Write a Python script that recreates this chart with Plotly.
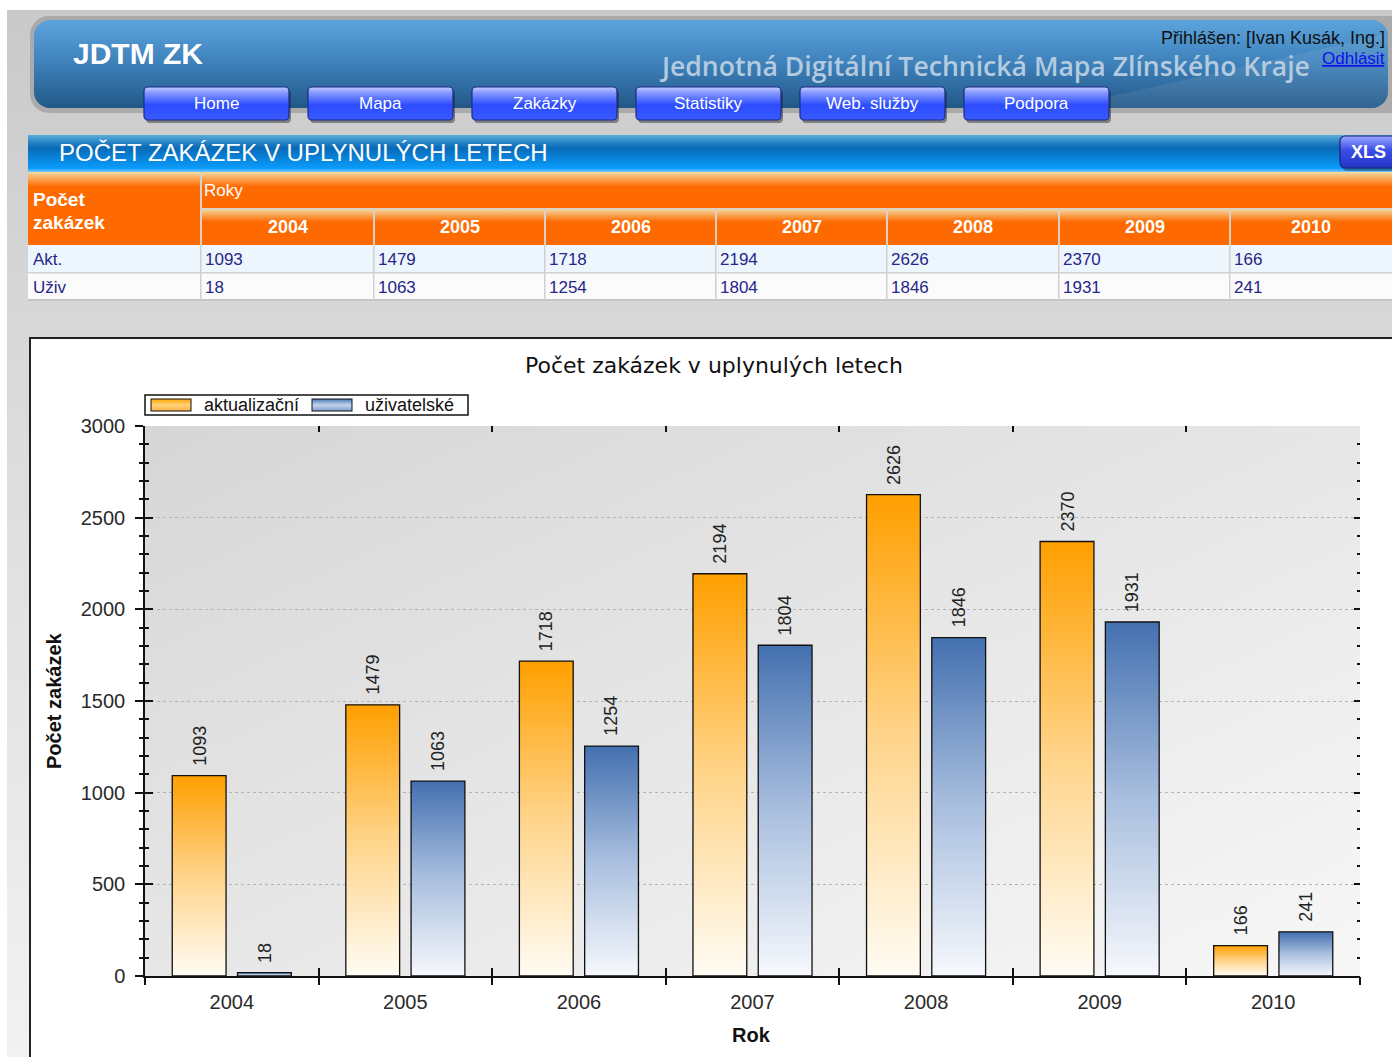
import base64
import plotly.graph_objects as go

# ---------------- data ----------------
years = [2004, 2005, 2006, 2007, 2008, 2009, 2010]
aktualizacni = [1093, 1479, 1718, 2194, 2626, 2370, 166]
uzivatelske = [18, 1063, 1254, 1804, 1846, 1931, 241]
series_names = ["aktualizační", "uživatelské"]
row_labels = ["Akt.", "Uživ"]
nav_items = ["Home", "Mapa", "Zakázky", "Statistiky", "Web. služby", "Podpora"]
y_tick_vals = [0, 500, 1000, 1500, 2000, 2500, 3000]

# ---------------- page geometry ----------------
W, H = 1392, 1057
def px(x):
    return x / W
def py(y):
    return 1 - y / H

ARIAL = "Liberation Sans, Arial, sans-serif"
DEJAVU = "DejaVu Sans, Verdana, sans-serif"
OPEN = "Open Sans, sans-serif"

PLOT_L, PLOT_R, PLOT_T, PLOT_B = 145, 1360, 426, 976
col_edges = [201, 374, 545, 716, 887, 1059, 1230, 1400]
btn_x0 = [144, 308, 472, 636, 800, 964]
BTN_W = 145

# ---------------- decorative background (SVG) ----------------
svg = []
svg.append(f'<svg xmlns="http://www.w3.org/2000/svg" width="{W}" height="{H}" viewBox="0 0 {W} {H}" preserveAspectRatio="none">')
svg.append('''<defs>
<linearGradient id="pagebg" x1="0" y1="0" x2="0" y2="1"><stop offset="0" stop-color="#c9c9c9"/><stop offset="0.3" stop-color="#d8d8d8"/><stop offset="1" stop-color="#f2f2f2"/></linearGradient>
<linearGradient id="banner" x1="0" y1="0" x2="0" y2="1"><stop offset="0" stop-color="#5ca4dd"/><stop offset="0.5" stop-color="#3d80ba"/><stop offset="1" stop-color="#225887"/></linearGradient>
<linearGradient id="btn" x1="0" y1="0" x2="0" y2="1"><stop offset="0" stop-color="#c4ceff"/><stop offset="0.15" stop-color="#8c9fff"/><stop offset="0.42" stop-color="#4a66ff"/><stop offset="0.55" stop-color="#2c4cff"/><stop offset="1" stop-color="#3a5bff"/></linearGradient>
<linearGradient id="sec" x1="0" y1="0" x2="0" y2="1"><stop offset="0" stop-color="#5eaed9"/><stop offset="0.18" stop-color="#2b88c7"/><stop offset="0.35" stop-color="#0869b7"/><stop offset="0.9" stop-color="#0a9cfb"/><stop offset="1" stop-color="#7cc8ff"/></linearGradient>
<linearGradient id="xls" x1="0" y1="0" x2="0" y2="1"><stop offset="0" stop-color="#9aa6ff"/><stop offset="0.45" stop-color="#3a4de6"/><stop offset="1" stop-color="#2435c4"/></linearGradient>
<linearGradient id="oband" x1="0" y1="0" x2="0" y2="1"><stop offset="0" stop-color="#f2dca8"/><stop offset="0.35" stop-color="#f7b062"/><stop offset="1" stop-color="#ff6a00"/></linearGradient>
<linearGradient id="plotbg" x1="0" y1="0" x2="1" y2="1"><stop offset="0" stop-color="#d6d6d6"/><stop offset="1" stop-color="#f7f7f7"/></linearGradient>
<linearGradient id="lgo" x1="0" y1="0" x2="0" y2="1"><stop offset="0" stop-color="#ffa500"/><stop offset="0.5" stop-color="#ffd27a"/><stop offset="1" stop-color="#ffb347"/></linearGradient>
<linearGradient id="lgb" x1="0" y1="0" x2="0" y2="1"><stop offset="0" stop-color="#4a78b8"/><stop offset="0.5" stop-color="#c3d3ea"/><stop offset="1" stop-color="#7e9fcf"/></linearGradient>
</defs>''')
svg.append(f'<rect x="0" y="0" width="{W}" height="{H}" fill="#ffffff"/>')
svg.append(f'<rect x="7" y="10" width="{W}" height="{H}" fill="url(#pagebg)"/>')
# banner
svg.append('<rect x="30" y="16" width="1380" height="97" rx="19" fill="#9c9c9c" fill-opacity="0.7"/>')
svg.append('<rect x="34" y="20" width="1354" height="88" rx="16" fill="url(#banner)"/>')
svg.append('<path d="M 1060 108 Q 1230 70 1388 34 L 1388 92 Q 1388 108 1372 108 Z" fill="#ffffff" fill-opacity="0.08"/>')
# nav buttons
for x0 in btn_x0:
    svg.append(f'<rect x="{x0+2}" y="{90}" width="{BTN_W}" height="{33}" rx="4" fill="#202020" fill-opacity="0.45"/>')
    svg.append(f'<rect x="{x0}" y="{87}" width="{BTN_W}" height="{33}" rx="4" fill="url(#btn)" stroke="#1b2a8a" stroke-width="1.2"/>')
# section title bar
svg.append('<rect x="28" y="135" width="1380" height="37" fill="url(#sec)"/>')
svg.append('<rect x="1342" y="139" width="56" height="32" rx="5" fill="#202020" fill-opacity="0.4"/>')
svg.append('<rect x="1340" y="136" width="56" height="32" rx="5" fill="url(#xls)" stroke="#1a237e" stroke-width="1.2"/>')
# table header
svg.append('<rect x="28" y="172" width="1380" height="73" fill="#ff6a00"/>')
svg.append('<rect x="28" y="172" width="1380" height="15" fill="url(#oband)"/>')
svg.append('<rect x="201" y="209" width="1200" height="13" fill="url(#oband)"/>')
svg.append('<rect x="200" y="172" width="2" height="73" fill="#d9d0c8"/>')
svg.append('<rect x="201" y="208" width="1200" height="1.5" fill="#d9d0c8"/>')
for e in col_edges[1:-1]:
    svg.append(f'<rect x="{e-1}" y="209" width="2" height="36" fill="#d9d0c8"/>')
# data rows
svg.append('<rect x="28" y="245" width="1380" height="27" fill="#eef6fd"/>')
svg.append('<rect x="28" y="273" width="1380" height="26" fill="#fbfbfb"/>')
svg.append('<rect x="28" y="272" width="1380" height="1.5" fill="#d2d2d2"/>')
svg.append('<rect x="28" y="299" width="1380" height="2" fill="#c4c4c4"/>')
for e in col_edges[:-1]:
    svg.append(f'<rect x="{e-1}" y="245" width="1.5" height="55" fill="#d0d0d0"/>')
# chart panel
svg.append('<rect x="30" y="338" width="1400" height="740" fill="#ffffff" stroke="#222222" stroke-width="2"/>')
svg.append(f'<rect x="{PLOT_L}" y="{PLOT_T}" width="{PLOT_R-PLOT_L}" height="{PLOT_B-PLOT_T}" fill="url(#plotbg)"/>')
# legend box
svg.append('<rect x="145" y="395" width="323" height="20" fill="#ffffff" stroke="#111111" stroke-width="1.5"/>')
svg.append('<rect x="151" y="399" width="40" height="12" fill="url(#lgo)" stroke="#111111" stroke-width="1"/>')
svg.append('<rect x="312" y="399" width="40" height="12" fill="url(#lgb)" stroke="#111111" stroke-width="1"/>')
svg.append('</svg>')
svg_uri = "data:image/svg+xml;base64," + base64.b64encode("".join(svg).encode("utf-8")).decode("ascii")

# ---------------- figure ----------------
fig = go.Figure()

BW = 0.31    # bar width (category units)
GAP = 0.033  # half gap between the two bars of a year
ORANGE_CS = [[0, "#fffcf4"], [0.5, "#ffd48a"], [1, "#ff9f00"]]
BLUE_CS = [[0, "#f6f8fc"], [0.5, "#a9bfdf"], [1, "#4470b0"]]

annotations = []
for i, yr in enumerate(years):
    for vals, side, cs in [(aktualizacni, -1, ORANGE_CS), (uzivatelske, 1, BLUE_CS)]:
        v = vals[i]
        if side < 0:
            x0, x1 = yr - GAP - BW, yr - GAP
        else:
            x0, x1 = yr + GAP, yr + GAP + BW
        fig.add_trace(go.Scatter(
            x=[x0, x0, x1, x1, x0], y=[0, v, v, 0, 0],
            mode="lines", fill="toself",
            fillgradient=dict(type="vertical", colorscale=cs, start=0, stop=v),
            line=dict(color="#111111", width=1.3),
            name=series_names[0] if side < 0 else series_names[1],
            showlegend=False, hoverinfo="name+y",
        ))
        annotations.append(dict(
            x=(x0 + x1) / 2, y=v, xref="x", yref="y", text=str(v),
            showarrow=False, textangle=-90, xanchor="center", yanchor="bottom",
            yshift=8, font=dict(family=ARIAL, size=18, color="#222222"),
        ))

# dummy traces for overlay tick axes
for xa, ya in [("x", "y2"), ("x", "y3"), ("x2", "y"), ("x3", "y"), ("x4", "y")]:
    fig.add_trace(go.Scatter(x=[None], y=[None], xaxis=xa, yaxis=ya,
                             showlegend=False, hoverinfo="skip"))

xdom = [px(PLOT_L), px(PLOT_R)]
ydom = [py(PLOT_B), py(PLOT_T)]
xr = [years[0] - 0.5, years[-1] + 0.5]
yr_ = [0, 3000]
boundaries = [y - 0.5 for y in years] + [years[-1] + 0.5]

axis_common = dict(showgrid=False, zeroline=False)
fig.update_layout(
    width=W, height=H, autosize=False,
    margin=dict(l=0, r=0, t=0, b=0, pad=0, autoexpand=False),
    paper_bgcolor="#ffffff", plot_bgcolor="rgba(0,0,0,0)",
    showlegend=False,
    xaxis=dict(domain=xdom, range=xr, tickvals=years, ticktext=[str(y) for y in years],
               ticks="", showline=True, linecolor="#111111", linewidth=1.5,
               tickfont=dict(family=ARIAL, size=20, color="#2a2a2a"),
               ticklabelstandoff=7, fixedrange=True, automargin=False, **axis_common),
    xaxis2=dict(overlaying="x", anchor="y", side="bottom", range=xr, tickvals=boundaries,
                ticks="outside", ticklen=8, tickwidth=1.5, tickcolor="#111111",
                showticklabels=False, showline=False, **axis_common),
    xaxis3=dict(overlaying="x", anchor="y", side="bottom", range=xr, tickvals=boundaries,
                ticks="inside", ticklen=8, tickwidth=1.5, tickcolor="#111111",
                showticklabels=False, showline=False, **axis_common),
    xaxis4=dict(overlaying="x", anchor="y", side="top", range=xr, tickvals=boundaries,
                ticks="inside", ticklen=6, tickwidth=1.5, tickcolor="#111111",
                showticklabels=False, showline=False, **axis_common),
    yaxis=dict(domain=ydom, range=yr_, tickvals=y_tick_vals,
               ticks="outside", ticklen=8, tickwidth=1.5, tickcolor="#111111",
               minor=dict(dtick=100, ticks="outside", ticklen=4, tickwidth=1.5, tickcolor="#111111", showgrid=False),
               showline=True, linecolor="#111111", linewidth=1.5,
               showgrid=True, gridcolor="#b4b4b4", griddash="dot", gridwidth=1,
               zeroline=False, tickfont=dict(family=ARIAL, size=20, color="#2a2a2a"),
               ticklabelstandoff=6, fixedrange=True, automargin=False),
    yaxis2=dict(overlaying="y", anchor="x", side="left", range=yr_, tickvals=y_tick_vals,
                ticks="inside", ticklen=8, tickwidth=1.5, tickcolor="#111111",
                minor=dict(dtick=100, ticks="inside", ticklen=4, tickwidth=1.5, tickcolor="#111111"),
                showticklabels=False, showline=False, **axis_common),
    yaxis3=dict(overlaying="y", anchor="x", side="right", range=yr_, tickvals=y_tick_vals,
                ticks="inside", ticklen=6, tickwidth=1.5, tickcolor="#111111",
                minor=dict(dtick=100, ticks="inside", ticklen=3, tickwidth=1.5, tickcolor="#111111"),
                showticklabels=False, showline=False, **axis_common),
    images=[dict(source=svg_uri, xref="paper", yref="paper", x=0, y=1, sizex=1, sizey=1,
                 xanchor="left", yanchor="top", sizing="stretch", layer="below")],
)

def pa(text, x, y, size, color, family=ARIAL, xanchor="left", yanchor="middle", angle=0, weight=None):
    font = dict(family=family, size=size, color=color)
    if weight is not None:
        font["weight"] = weight
    annotations.append(dict(text=text, x=px(x), y=py(y), xref="paper", yref="paper",
                            showarrow=False, xanchor=xanchor, yanchor=yanchor, textangle=angle,
                            font=font))

# header
pa("<b>JDTM ZK</b>", 71, 53, 30, "#ffffff")
pa("Jednotná Digitální Technická Mapa Zlínského Kraje", 1312, 66, 26.6, "#b4cbdf", family=OPEN, xanchor="right", weight=600)
pa("Přihlášen: [Ivan Kusák, Ing.]", 1387, 38, 18, "#111111", xanchor="right")
pa("<u>Odhlásit</u>", 1387, 59, 17, "#1010ee", xanchor="right")
for x0, label in zip(btn_x0, nav_items):
    pa(label, x0 + BTN_W / 2, 103, 17, "#ffffff", xanchor="center")
# section title
pa("POČET ZAKÁZEK V UPLYNULÝCH LETECH", 57, 152, 24, "#ffffff")
pa("<b>XLS</b>", 1368, 152, 18, "#ffffff", xanchor="center")
# table
pa("<b>Počet</b>", 31, 200, 19, "#ffffff")
pa("<b>zakázek</b>", 31, 222, 19, "#ffffff")
pa("Roky", 202, 190, 17, "#ffffff")
for j, yv in enumerate(years):
    cx = (col_edges[j] + min(col_edges[j + 1], W)) / 2
    pa(f"<b>{yv}</b>", cx, 227, 18, "#ffffff", xanchor="center")
for r, (lab, vals) in enumerate(zip(row_labels, [aktualizacni, uzivatelske])):
    yy = 259 + r * 28
    pa(lab, 31, yy, 17, "#26268a")
    for j, v in enumerate(vals):
        pa(str(v), col_edges[j] + 2, yy, 17, "#26268a")
# chart texts
pa("Počet zakázek v uplynulých letech", 714, 366, 22, "#111111", family=DEJAVU, xanchor="center")
pa(series_names[0], 202, 405, 18, "#111111")
pa(series_names[1], 363, 405, 18, "#111111")
pa("<b>Počet zakázek</b>", 54, 701, 20, "#111111", xanchor="center", angle=-90)
pa("<b>Rok</b>", 751, 1035, 20, "#111111", xanchor="center")

fig.update_layout(annotations=annotations)

fig.write_html("out.html", config={"displayModeBar": False},
               post_script="document.body.style.margin='0';document.body.style.overflow='hidden';")
